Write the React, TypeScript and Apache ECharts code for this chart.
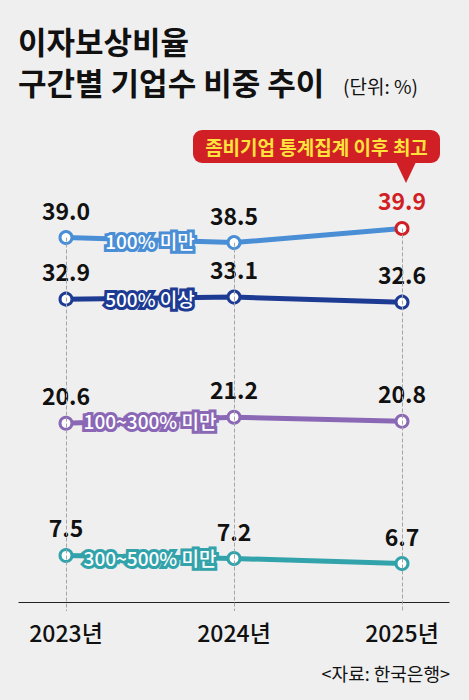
import React, { useEffect, useRef } from "react";
import * as echarts from "echarts";

const categories = ["2023년", "2024년", "2025년"];
const under100 = [39.0, 38.5, 39.9];
const over500 = [32.9, 33.1, 32.6];
const from100to300 = [20.6, 21.2, 20.8];
const from300to500 = [7.5, 7.2, 6.7];
const seriesNames = ["100% 미만", "500% 이상", "100~300% 미만", "300~500% 미만"];
const seriesColors = ["#4a8ed6", "#1e3b93", "#8a68b6", "#33a3ab"];
const titleLine1 = "이자보상비율";
const titleLine2 = "구간별 기업수 비중 추이";
const unitText = "(단위: %)";
const calloutText = "좀비기업 통계집계 이후 최고";
const sourceText = "<자료: 한국은행>";

const FONT = '"Noto Sans CJK KR", "Noto Sans", sans-serif';
const RED = "#d11f26";
const Y_MIN = 2;
const Y_MAX = 45;

export default function App() {
  const ref = useRef<HTMLDivElement>(null);

  useEffect(() => {
    if (!ref.current) return;
    const chart = echarts.init(ref.current, null, { renderer: "svg" });
    const allData = [under100, over500, from100to300, from300to500];

    const lineSeries = allData.map((d, si) => ({
      type: "line",
      name: seriesNames[si],
      xAxisIndex: 0,
      yAxisIndex: 0,
      z: 3,
      symbol: "circle",
      symbolSize: 12,
      clip: false,
      lineStyle: { color: seriesColors[si], width: 5 },
      itemStyle: { color: "#ffffff", borderColor: seriesColors[si], borderWidth: 3 },
      label: {
        show: true,
        position: "top",
        distance: 9,
        fontFamily: FONT,
        fontSize: 23,
        fontWeight: "bold",
        color: "#111111",
        formatter: (p: any) => Number(p.value).toFixed(1),
      },
      data: d.map((v, i) => {
        if (si === 0 && i === 2) {
          return {
            value: v,
            itemStyle: { borderColor: RED },
            label: { color: RED },
          };
        }
        return v;
      }),
    }));

    const guideSeries = {
      type: "line",
      xAxisIndex: 0,
      yAxisIndex: 0,
      z: 1,
      silent: true,
      symbol: "none",
      lineStyle: { opacity: 0 },
      label: { show: false },
      data: under100,
      markLine: {
        silent: true,
        symbol: ["none", "none"],
        label: { show: false },
        lineStyle: { type: "dashed", color: "#a5a5a5", width: 1 },
        data: under100.map((v, i) => [
          { coord: [i, v] },
          { coord: [i, Y_MIN] },
        ]),
      },
    };

    const option: any = {
      animation: false,
      backgroundColor: "#efefef",
      textStyle: { fontFamily: FONT },
      grid: [
        { left: 66, right: 67, top: 177, bottom: 89 },
        { left: 19, right: 20, top: 177, bottom: 98 },
      ],
      xAxis: [
        {
          type: "category",
          gridIndex: 0,
          boundaryGap: false,
          data: categories,
          axisLine: { show: false },
          axisTick: { show: false },
          splitLine: { show: false },
          axisLabel: {
            margin: 9,
            fontFamily: FONT,
            fontSize: 23,
            fontWeight: 500,
            color: "#111111",
          },
        },
        {
          type: "category",
          gridIndex: 1,
          data: categories,
          axisLine: { show: true, lineStyle: { color: "#222222", width: 1.2 } },
          axisTick: { show: false },
          axisLabel: { show: false },
          splitLine: { show: false },
        },
      ],
      yAxis: [
        {
          type: "value",
          gridIndex: 0,
          min: Y_MIN,
          max: Y_MAX,
          show: false,
          splitLine: { show: false },
        },
        { type: "value", gridIndex: 1, show: false, splitLine: { show: false } },
      ],
      series: [guideSeries, ...lineSeries],
    };

    chart.setOption(option);

    const toPx = (i: number, v: number) =>
      chart.convertToPixel({ xAxisIndex: 0, yAxisIndex: 0 }, [i, v]) as number[];

    const seriesLabelGraphics: any[] = [];
    allData.forEach((d, si) => {
      const a = toPx(0, d[0]);
      const b = toPx(1, d[1]);
      const base = {
        text: seriesNames[si],
        x: (a[0] + b[0]) / 2,
        y: (a[1] + b[1]) / 2,
        align: "center",
        verticalAlign: "middle",
        fontFamily: FONT,
        fontSize: 19,
        fontWeight: 500,
      };
      seriesLabelGraphics.push({
        type: "text",
        z: 10,
        style: { ...base, fill: seriesColors[si], stroke: seriesColors[si], lineWidth: 6 },
      });
      seriesLabelGraphics.push({
        type: "text",
        z: 11,
        style: { ...base, fill: "#ffffff" },
      });
    });

    const tip = toPx(2, under100[2]);
    const tipX = tip[0] + 4;
    const boxRight = 440;
    const boxLeft = 193;
    const boxTop = 130;
    const boxH = 33;

    chart.setOption({
      graphic: [
        {
          type: "text",
          left: 18,
          top: 25,
          style: {
            text: titleLine1,
            fill: "#111111",
            fontFamily: FONT,
            fontSize: 31,
            fontWeight: "bold",
          },
        },
        {
          type: "text",
          left: 18,
          top: 66,
          style: {
            text: titleLine2,
            fill: "#111111",
            fontFamily: FONT,
            fontSize: 31,
            fontWeight: "bold",
          },
        },
        {
          type: "text",
          left: 343,
          top: 76,
          style: {
            text: unitText,
            fill: "#111111",
            fontFamily: FONT,
            fontSize: 19,
          },
        },
        {
          type: "rect",
          shape: { x: boxLeft, y: boxTop, width: boxRight - boxLeft, height: boxH, r: 9 },
          style: { fill: RED },
        },
        {
          type: "polygon",
          shape: {
            points: [
              [tipX - 10, boxTop + boxH - 1],
              [tipX + 10, boxTop + boxH - 1],
              [tipX, boxTop + boxH + 20],
            ],
          },
          style: { fill: RED },
        },
        {
          type: "text",
          style: {
            text: calloutText,
            x: (boxLeft + boxRight) / 2,
            y: boxTop + boxH / 2,
            align: "center",
            verticalAlign: "middle",
            fill: "#ffe23c",
            fontFamily: FONT,
            fontSize: 19,
            fontWeight: "bold",
          },
        },
        ...seriesLabelGraphics,
        {
          type: "text",
          style: {
            text: sourceText,
            x: 450,
            y: 673,
            align: "right",
            verticalAlign: "middle",
            fill: "#111111",
            fontFamily: FONT,
            fontSize: 18,
          },
        },
      ],
    });

    return () => chart.dispose();
  }, []);

  return (
    <div
      ref={ref}
      style={{ position: "absolute", left: 0, top: 0, width: 469, height: 700 }}
    />
  );
}
